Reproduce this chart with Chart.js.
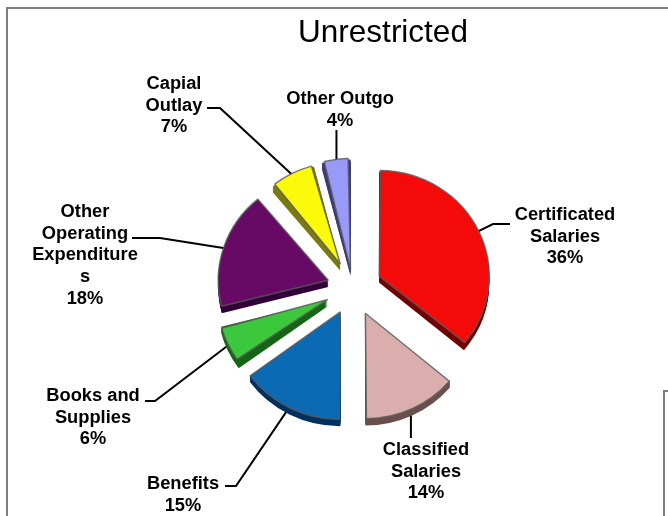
<!DOCTYPE html>
<html>
<head>
<meta charset="utf-8">
<title>Unrestricted</title>
<script src="https://cdn.jsdelivr.net/npm/chart.js@4"></script>
<style>
  html, body { margin: 0; padding: 0; background: #fff; overflow: hidden; }
  #stage { position: relative; width: 668px; height: 516px; }
  #stage canvas { position: absolute; left: 0; top: 0; }
  .rule { position: absolute; background: #7f7f7f; }
</style>
</head>
<body>
<div id="stage">
  <div class="rule" style="left:6px;top:7px;width:662px;height:2px"></div>
  <div class="rule" style="left:6px;top:7px;width:2px;height:509px"></div>
  <div class="rule" style="left:663px;top:390px;width:5px;height:2px"></div>
  <div class="rule" style="left:663px;top:390px;width:2px;height:126px"></div>
  <canvas id="budget" width="668" height="516"></canvas>
</div>
<script>
// Budget shares, clockwise from twelve o'clock.
const categories = ['Certificated Salaries', 'Classified Salaries', 'Benefits', 'Books and Supplies',
                    'Other Operating Expenditures', 'Capial Outlay', 'Other Outgo'];
const shares = [36, 14, 15, 6, 18, 7, 4];
const labelLines = [['Certificated', 'Salaries'], ['Classified', 'Salaries'], ['Benefits'], ['Books and', 'Supplies'],
                    ['Other', 'Operating', 'Expenditure', 's'], ['Capial', 'Outlay'], ['Other Outgo']];
const faceColors = ['#f50a0a', '#d9aeac', '#0a6ab4', '#3cc83c', '#660a66', '#fafa0a', '#9999fa'];
const sideColors = ['#730000', '#6b4f4d', '#003060', '#146614', '#33003a', '#7a7a10', '#3c3c78'];

// How far each wedge is pulled out of the pie, and its own radius, in pixels.
const explode = [29, 29, 28, 28, 26, 28, 20];
const wedgeRadius = [110, 110, 112, 110, 110, 106, 115];

// Label block centre and first text row, plus the leader's elbow.
const labelPlacement = [
  { x: 565, y: 215, from: [510, 224], elbow: [493, 224] },
  { x: 426, y: 450, from: [409, 438], elbow: null },
  { x: 183, y: 484, from: [225, 486], elbow: [236, 486] },
  { x: 93,  y: 396, from: [145, 401], elbow: [155, 401] },
  { x: 85,  y: 212, from: [132, 238], elbow: [160, 238] },
  { x: 174, y: 84,  from: [207, 108], elbow: [220, 108] },
  { x: 340, y: 99,  from: [338, 130], elbow: null }
];

const PIE_RADIUS = 110;
const TILT = 0.96;
const SIDE_DEPTH = 7;
const TITLE_CENTER_X = 383;
const LINE_HEIGHT = 21.7;

function wedge(arc, i) {
  const d = arc.options.offset / 4;
  const mid = (arc.startAngle + arc.endAngle) / 2;
  return {
    x: arc.x + Math.cos(mid) * d,
    y: arc.y + Math.sin(mid) * d,
    mid: mid, start: arc.startAngle, end: arc.endAngle,
    radius: wedgeRadius[i]
  };
}

const tiltedPie = {
  id: 'tiltedPie',
  afterLayout(chart) {
    // Slide the title block sideways so it sits off the pie's centre line.
    const t = chart.titleBlock;
    const shift = TITLE_CENTER_X - (t.left + t.right) / 2;
    t.left += shift;
    t.right += shift;
  },
  afterDatasetsUpdate(chart) {
    // Arc elements enlarge narrow offset wedges; undo that so each wedge keeps its radius.
    chart.getDatasetMeta(0).data.forEach((arc, i) => {
      const fix = 1 - Math.sin(Math.min(Math.PI, arc.circumference));
      arc.outerRadius = wedgeRadius[i] - (arc.options.offset / 4) * fix;
    });
  },
  beforeDatasetsDraw(chart) {
    const ctx = chart.ctx;
    const arcs = chart.getDatasetMeta(0).data;
    const cy = arcs[0].y;

    // Leader lines run underneath the wedges.
    ctx.save();
    ctx.strokeStyle = '#000';
    ctx.lineWidth = 2;
    ctx.lineJoin = 'miter';
    arcs.forEach((arc, i) => {
      const w = wedge(arc, i);
      const px = w.x + Math.cos(w.mid) * (w.radius - 3);
      const py = cy + (w.y + Math.sin(w.mid) * (w.radius - 3) - cy) * TILT;
      const place = labelPlacement[i];
      ctx.beginPath();
      ctx.moveTo(place.elbow ? place.from[0] : px, place.from[1]);
      if (place.elbow) ctx.lineTo(place.elbow[0], place.elbow[1]);
      ctx.lineTo(px, py);
      ctx.stroke();
    });
    ctx.restore();

    // Everything up to afterDatasetsDraw is flattened to look tilted.
    ctx.save();
    ctx.translate(0, cy);
    ctx.scale(1, TILT);
    ctx.translate(0, -cy);

    arcs.forEach((arc, i) => {
      const w = wedge(arc, i);
      ctx.fillStyle = sideColors[i];
      for (let k = SIDE_DEPTH; k >= 1; k--) {
        ctx.beginPath();
        ctx.moveTo(w.x, w.y + k);
        ctx.arc(w.x, w.y + k, w.radius, w.start, w.end);
        ctx.closePath();
        ctx.fill();
      }
    });
  },
  afterDatasetsDraw(chart) {
    const ctx = chart.ctx;
    ctx.restore();

    ctx.save();
    ctx.fillStyle = '#000';
    ctx.font = 'bold 18.3px "Liberation Sans"';
    ctx.textAlign = 'center';
    ctx.textBaseline = 'middle';
    labelPlacement.forEach((place, i) => {
      const lines = labelLines[i].concat(shares[i] + '%');
      lines.forEach((text, n) => ctx.fillText(text, place.x, place.y + n * LINE_HEIGHT));
    });
    ctx.restore();
  }
};

new Chart(document.getElementById('budget'), {
  type: 'pie',
  data: {
    labels: categories,
    datasets: [{
      data: shares,
      backgroundColor: faceColors,
      borderColor: 'rgba(90,90,90,0.8)',
      borderWidth: 1.5,
      offset: explode.map((d) => d * 4),
      clip: false
    }]
  },
  options: {
    responsive: false,
    animation: false,
    events: [],
    radius: PIE_RADIUS,
    layout: { padding: { left: 38, right: 0, top: 0, bottom: 0 } },
    plugins: {
      legend: { display: false },
      tooltip: { enabled: false },
      title: {
        display: true,
        text: 'Unrestricted',
        color: '#000',
        font: { family: '"Liberation Sans"', size: 31.5, weight: 'normal' },
        padding: { top: 14, bottom: 8.2 }
      }
    }
  },
  plugins: [tiltedPie]
});
</script>
</body>
</html>
